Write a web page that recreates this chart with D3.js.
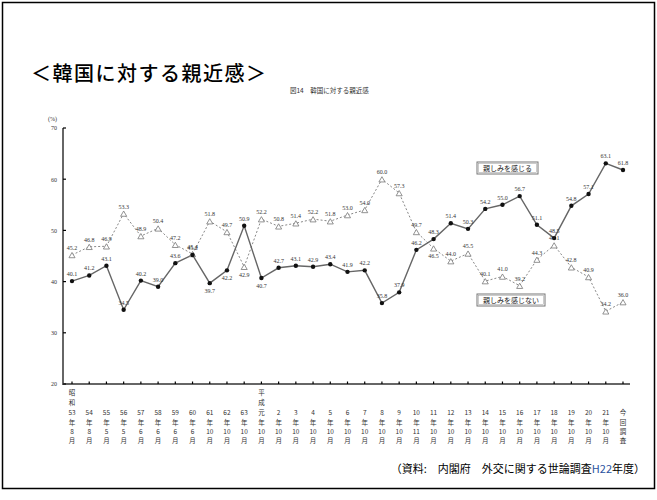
<!DOCTYPE html>
<html><head><meta charset="utf-8">
<script src="https://cdn.jsdelivr.net/npm/d3@7"></script>
<style>body{margin:0;background:#fff}svg{display:block}</style>
</head><body>
<svg id="c" width="657" height="500"></svg>
<script>
// categories: [era line, era line, number, 年, month, 月]
const categories = [
 ["昭","和","53","年","8","月"],["","","54","年","8","月"],["","","55","年","5","月"],["","","56","年","5","月"],
 ["","","57","年","6","月"],["","","58","年","6","月"],["","","59","年","6","月"],["","","60","年","6","月"],
 ["","","61","年","10","月"],["","","62","年","10","月"],["","","63","年","10","月"],
 ["平","成","元","年","10","月"],["","","2","年","10","月"],["","","3","年","10","月"],["","","4","年","10","月"],
 ["","","5","年","10","月"],["","","6","年","10","月"],["","","7","年","10","月"],["","","8","年","10","月"],
 ["","","9","年","10","月"],["","","10","年","11","月"],["","","11","年","10","月"],["","","12","年","10","月"],
 ["","","13","年","10","月"],["","","14","年","10","月"],["","","15","年","10","月"],["","","16","年","10","月"],
 ["","","17","年","10","月"],["","","18","年","10","月"],["","","19","年","10","月"],["","","20","年","10","月"],
 ["","","21","年","10","月"],["","","今","回","調","査"]
];
const affinity = [40.1,41.2,43.1,34.5,40.2,39.0,43.6,45.2,39.7,42.2,50.9,40.7,42.7,43.1,42.9,43.4,41.9,42.2,35.8,37.9,46.2,48.3,51.4,50.3,54.2,55.0,56.7,51.1,48.5,54.8,57.1,63.1,61.8];
const noAffinity = [45.2,46.8,46.9,53.3,48.9,50.4,47.2,45.4,51.8,49.7,42.9,52.2,50.8,51.4,52.2,51.8,53.0,54.0,60.0,57.3,49.7,46.5,44.0,45.5,40.1,41.0,39.2,44.3,47.1,42.8,40.9,34.2,36.0];
const yTicks = [20,30,40,50,60,70];
const affLabelBelow = [8,9,11];
const noLabelBelow = [10,21];
const seriesNames = ["親しみを感じる","親しみを感じない"];

const svg = d3.select("#c");
const x = d3.scalePoint().domain(d3.range(categories.length)).range([72,623]);
const y = d3.scaleLinear().domain([20,70]).range([384,128]);

// frame
svg.append("rect").attr("x",2.5).attr("y",2.5).attr("width",652).attr("height",486)
  .attr("fill","none").attr("stroke","#000").attr("stroke-width",1.5);

// title
svg.append("text").attr("x",31).attr("y",81).attr("font-family","Noto Sans CJK JP")
  .attr("font-size",20).attr("font-weight",500).attr("letter-spacing",1.5).attr("fill","#000").text("＜韓国に対する親近感＞");
svg.append("text").attr("x",290).attr("y",93).attr("font-family","Noto Sans CJK JP")
  .attr("font-size",6.5).attr("fill","#333").text("図14　韓国に対する親近感");
svg.append("text").attr("x",48).attr("y",121).attr("font-family","Liberation Serif")
  .attr("font-size",6).attr("fill","#333").text("(%)");

const numFont = "Liberation Serif";

// axes
const yAxis = svg.append("g").attr("transform","translate(63,0)")
  .call(d3.axisLeft(y).tickValues(yTicks).tickSize(0).tickPadding(6).tickFormat(d3.format("d")));
yAxis.select(".domain").remove();
yAxis.selectAll("text").attr("font-family",numFont).attr("font-size",6).attr("fill","#333");
svg.append("line").attr("x1",63).attr("x2",63).attr("y1",y(70)).attr("y2",y(20)+1)
  .attr("stroke","#666").attr("stroke-width",2);
svg.append("line").attr("x1",62).attr("x2",630).attr("y1",y(20)).attr("y2",y(20))
  .attr("stroke","#666").attr("stroke-width",2);
svg.selectAll(".yt").data(yTicks).enter().append("line")
  .attr("x1",63).attr("x2",66).attr("y1",d=>y(d)).attr("y2",d=>y(d)).attr("stroke","#000").attr("stroke-width",1.2);
svg.selectAll(".xt").data(d3.range(categories.length)).enter().append("line")
  .attr("x1",d=>x(d)).attr("x2",d=>x(d)).attr("y1",y(20)-2.5).attr("y2",y(20)).attr("stroke","#000").attr("stroke-width",1.2);

// x labels
const rowsY = [395,405,415,425,434,443];
const xl = svg.append("g");
categories.forEach((c,i)=>{
  c.forEach((t,r)=>{
    if(!t) return;
    xl.append("text").attr("x",x(i)).attr("y",rowsY[r]).attr("text-anchor","middle")
      .attr("font-family","Noto Sans CJK JP").attr("font-size",6.5).attr("fill","#333").text(t);
  });
});

// lines
const line = d3.line().x((d,i)=>x(i)).y(d=>y(d));
svg.append("path").datum(noAffinity).attr("d",line).attr("fill","none")
  .attr("stroke","#888").attr("stroke-width",1).attr("stroke-dasharray","2,2");
svg.append("path").datum(affinity).attr("d",line).attr("fill","none")
  .attr("stroke","#666").attr("stroke-width",1.4);

// markers
svg.selectAll(".tri").data(noAffinity).enter().append("path")
  .attr("d",d3.symbol().type(d3.symbolTriangle).size(16))
  .attr("transform",(d,i)=>`translate(${x(i)},${y(d)+1})`)
  .attr("fill","#fff").attr("stroke","#777").attr("stroke-width",0.8);
svg.selectAll(".dot").data(affinity).enter().append("circle")
  .attr("cx",(d,i)=>x(i)).attr("cy",d=>y(d)).attr("r",2.2).attr("fill","#111");

// value labels
function labels(data, below){
  svg.append("g").selectAll("text").data(data).enter().append("text")
    .attr("x",(d,i)=>x(i)).attr("y",(d,i)=>below.includes(i)? y(d)+10 : y(d)-5)
    .attr("text-anchor","middle").attr("font-family",numFont).attr("font-size",6)
    .attr("fill","#333").text(d=>d.toFixed(1));
}
labels(noAffinity, noLabelBelow);
labels(affinity, affLabelBelow);

// legend boxes
function legendBox(text, bx, by, w){
  svg.append("rect").attr("x",bx).attr("y",by).attr("width",w).attr("height",12)
    .attr("fill","#fff").attr("stroke","#777").attr("stroke-width",1);
  svg.append("rect").attr("x",bx+1.5).attr("y",by+1.5).attr("width",w-3).attr("height",9)
    .attr("fill","none").attr("stroke","#999").attr("stroke-width",0.5);
  svg.append("text").attr("x",bx+w/2).attr("y",by+9).attr("text-anchor","middle")
    .attr("font-family","Noto Sans CJK JP").attr("font-size",7).attr("fill","#222").text(text);
}
legendBox(seriesNames[0],477,162,61);
legendBox(seriesNames[1],477,294,68);

// source
const src = svg.append("text").attr("x",645).attr("y",473).attr("text-anchor","end")
  .attr("font-family","Noto Sans CJK JP").attr("font-size",11).attr("fill","#000");
src.append("tspan").text("（資料:　内閣府　外交に関する世論調査");
src.append("tspan").attr("fill","#2a52a0").text("H22");
src.append("tspan").text("年度）");
</script>
</body></html>
